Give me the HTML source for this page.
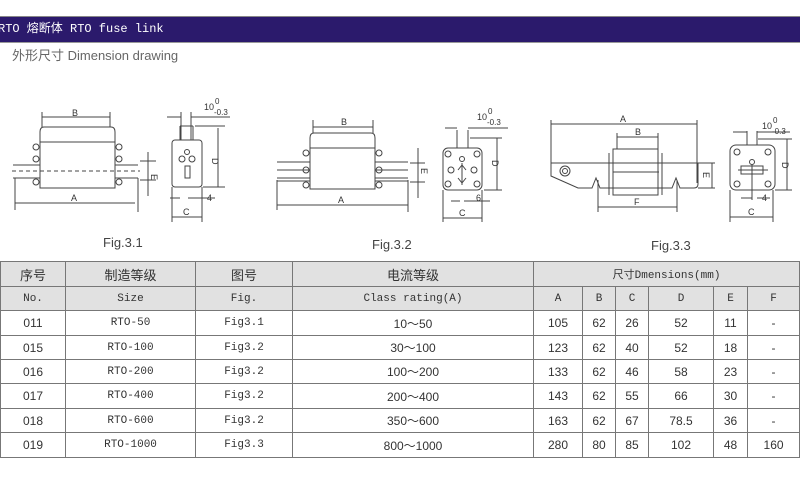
<!DOCTYPE html>
<html><head><meta charset="utf-8"><style>
body{margin:0;width:800px;height:478px;background:#fff;position:relative;overflow:hidden;font-family:"Liberation Sans","Noto Sans CJK SC",sans-serif}
.bar{position:absolute;left:0;top:16px;width:800px;height:25px;background:#2b1a6c;border-top:1px solid #888;border-bottom:1px solid #999;color:#fff;font:12px "Liberation Mono","Noto Sans CJK SC",monospace;line-height:25px;text-indent:-2px}
.sub{position:absolute;left:12px;top:45px;color:#666;font-size:13px}
table{position:absolute;left:0;top:261px;border-collapse:collapse;table-layout:fixed;width:799px}
td{border:1px solid #777;text-align:center;padding:0;font-size:12px;color:#333;font-family:"Liberation Sans","Noto Sans CJK SC",sans-serif}
.m{font-family:"Liberation Mono","Noto Sans CJK SC",monospace;font-size:11px}
.h td{background:#e1e1e1}
.c{font-size:13px}
svg{position:absolute;left:0;top:0}
</style></head><body>
<div class="bar">RTO 熔断体 RTO fuse link</div>
<div class="sub">外形尺寸 Dimension drawing</div>
<svg width="800" height="260" viewBox="0 0 800 260" fill="none" stroke="#444" stroke-width="1" font-family="Liberation Sans, sans-serif" font-size="9">
<!-- Fig 3.1 -->
<g>
<path d="M40 188 V132 q0-5 4-5 M115 188 V132 q0-5 -4-5 M44 127 H111" />
<rect x="40" y="142" width="75" height="46"/>
<path d="M13 165 H40 M13 178 H40 M115 165 H138 M115 178 H138"/>
<path d="M12 171 H140" stroke-dasharray="4 3"/>
<circle cx="36" cy="147" r="3"/><circle cx="36" cy="159" r="3"/><circle cx="36" cy="182" r="3"/>
<circle cx="119" cy="147" r="3"/><circle cx="119" cy="159" r="3"/><circle cx="119" cy="182" r="3"/>
<path d="M42 112 V127 M110 112 V127 M42 117 H110 M15 178 V210 M138 178 V212 M15 203 H135 M140 161 H156 M140 180 H156 M148 152 V196"/>
<rect x="172" y="140" width="30" height="47" rx="3"/>
<path d="M180 140 V126 M193 140 V126 M180 126 H193 M181 112 V140 M191 112 V140 M167 117 H181 M191 117 H230 M195 126 H225 M203 187 H225 M218 128 V187 M172 187 V222 M202 187 V222 M172 217 H202 M180 198 H170 M188 198 H215"/>
<circle cx="187" cy="152" r="2.5"/><circle cx="182" cy="159" r="3"/><circle cx="192" cy="159" r="3"/><rect x="185" y="166" width="5" height="12"/>
</g>
<!-- Fig 3.2 -->
<g>
<path d="M310 189 V138 q0-5 4-5 M375 189 V138 q0-5 -4-5 M314 133 H371"/>
<rect x="310" y="148" width="65" height="41"/>
<path d="M277 162 H310 M277 170 H310 M277 178 H310 M277 181 H310 M375 162 H408 M375 170 H408 M375 178 H408 M375 181 H408"/>
<circle cx="306" cy="153" r="3"/><circle cx="306" cy="170" r="3"/><circle cx="306" cy="185" r="3"/>
<circle cx="379" cy="153" r="3"/><circle cx="379" cy="170" r="3"/><circle cx="379" cy="185" r="3"/>
<path d="M313 120 V133 M373 120 V133 M313 127 H373 M277 180 V210 M408 180 V212 M277 205 H408 M410 163 H425 M410 182 H425 M418 148 V198"/>
<rect x="443" y="148" width="39" height="42" rx="5"/>
<path d="M457 148 V130 M468 148 V130 M445 128 H457 M468 128 H508 M470 138 H502 M484 190 H502 M497 138 V190 M443 190 V222 M482 190 V222 M443 218 H482 M451 201 H460 M464 201 H490"/>
<circle cx="448" cy="154" r="3"/><circle cx="477" cy="154" r="3"/><circle cx="448" cy="184" r="3"/><circle cx="477" cy="184" r="3"/><circle cx="451" cy="170" r="3"/><circle cx="474" cy="170" r="3"/><circle cx="462" cy="159" r="2.5"/>
<path d="M462 163 V185 M458 170 L462 165 L466 170 M458 178 L462 183 L466 178"/>
</g>
<!-- Fig 3.3 -->
<g>
<path d="M551 163 H698 V184 q0 4 -4 4 H680 L676 178 L672 188 H600 L596 178 L592 188 H578 L551 176 Z"/>
<circle cx="565" cy="171" r="5"/><circle cx="565" cy="171" r="2.5"/>
<rect x="613" y="149" width="45" height="46"/>
<path d="M609 153 V195 M662 153 V195 M613 172 H658" />
<path d="M613 172 H662" stroke-dasharray="4 3"/>
<path d="M551 120 V163 M697 120 V183 M551 124 H697 M617 133 V149 M658 133 V149 M617 137 H658 M598 180 V212 M677 180 V212 M598 207 H677 M698 163 H715 M698 188 H715 M712 163 V188"/>
<rect x="730" y="145" width="45" height="45" rx="6"/>
<path d="M747 145 V131 M757 145 V131 M733 132 H747 M757 132 H790 M758 139 H792 M775 190 H792 M787 139 V190 M730 190 V222 M773 190 V222 M730 217 H773 M752 198 H741 M757 198 H770 M752 165 V200 M738 170 H768"/>
<circle cx="737" cy="152" r="3"/><circle cx="768" cy="152" r="3"/><circle cx="737" cy="184" r="3"/><circle cx="768" cy="184" r="3"/><circle cx="752" cy="162" r="2.5"/>
<rect x="741" y="166" width="22" height="8"/>
</g>
<g fill="#333" stroke="none">
<text x="72" y="116">B</text><text x="71" y="201">A</text><text x="151" y="174" transform="rotate(90 151 174)">E</text>
<text x="212" y="158" transform="rotate(90 212 158)">D</text><text x="183" y="215">C</text><text x="207" y="201">4</text>
<text x="204" y="110">10</text><text x="215" y="104" font-size="8">0</text><text x="214" y="115" font-size="8">-0.3</text>
<text x="341" y="125">B</text><text x="338" y="203">A</text><text x="421" y="168" transform="rotate(90 421 168)">E</text>
<text x="492" y="160" transform="rotate(90 492 160)">D</text><text x="459" y="216">C</text><text x="476" y="201">6</text>
<text x="477" y="120">10</text><text x="488" y="114" font-size="8">0</text><text x="487" y="125" font-size="8">-0.3</text>
<text x="620" y="122">A</text><text x="635" y="135">B</text><text x="634" y="205">F</text><text x="703" y="172" transform="rotate(90 703 172)">E</text>
<text x="782" y="162" transform="rotate(90 782 162)">D</text><text x="748" y="215">C</text><text x="762" y="201">4</text>
<text x="762" y="129">10</text><text x="773" y="123" font-size="8">0</text><text x="772" y="134" font-size="8">-0.3</text>
<text x="103" y="247" font-size="13" fill="#444">Fig.3.1</text>
<text x="372" y="249" font-size="13" fill="#444">Fig.3.2</text>
<text x="651" y="250" font-size="13" fill="#444">Fig.3.3</text>
</g>
</svg>
<table>
<colgroup><col style="width:65px"><col style="width:130px"><col style="width:97px"><col style="width:241px"><col style="width:49px"><col style="width:33px"><col style="width:33px"><col style="width:65px"><col style="width:34px"><col style="width:52px"></colgroup>
<tr class="h" style="height:25px"><td class="c">序号</td><td class="c">制造等级</td><td class="c">图号</td><td class="c">电流等级</td><td colspan="6" class="m">尺寸Dmensions(mm)</td></tr>
<tr class="h" style="height:24px"><td class="m">No.</td><td class="m">Size</td><td class="m">Fig.</td><td class="m">Class rating(A)</td><td class="m">A</td><td class="m">B</td><td class="m">C</td><td class="m">D</td><td class="m">E</td><td class="m">F</td></tr>
<tr style="height:25px"><td>011</td><td class="m">RTO-50</td><td class="m">Fig3.1</td><td>10～50</td><td>105</td><td>62</td><td>26</td><td>52</td><td>11</td><td>-</td></tr>
<tr style="height:24px"><td>015</td><td class="m">RTO-100</td><td class="m">Fig3.2</td><td>30～100</td><td>123</td><td>62</td><td>40</td><td>52</td><td>18</td><td>-</td></tr>
<tr style="height:24px"><td>016</td><td class="m">RTO-200</td><td class="m">Fig3.2</td><td>100～200</td><td>133</td><td>62</td><td>46</td><td>58</td><td>23</td><td>-</td></tr>
<tr style="height:25px"><td>017</td><td class="m">RTO-400</td><td class="m">Fig3.2</td><td>200～400</td><td>143</td><td>62</td><td>55</td><td>66</td><td>30</td><td>-</td></tr>
<tr style="height:24px"><td>018</td><td class="m">RTO-600</td><td class="m">Fig3.2</td><td>350～600</td><td>163</td><td>62</td><td>67</td><td>78.5</td><td>36</td><td>-</td></tr>
<tr style="height:25px"><td>019</td><td class="m">RTO-1000</td><td class="m">Fig3.3</td><td>800～1000</td><td>280</td><td>80</td><td>85</td><td>102</td><td>48</td><td>160</td></tr>
</table>
</body></html>
